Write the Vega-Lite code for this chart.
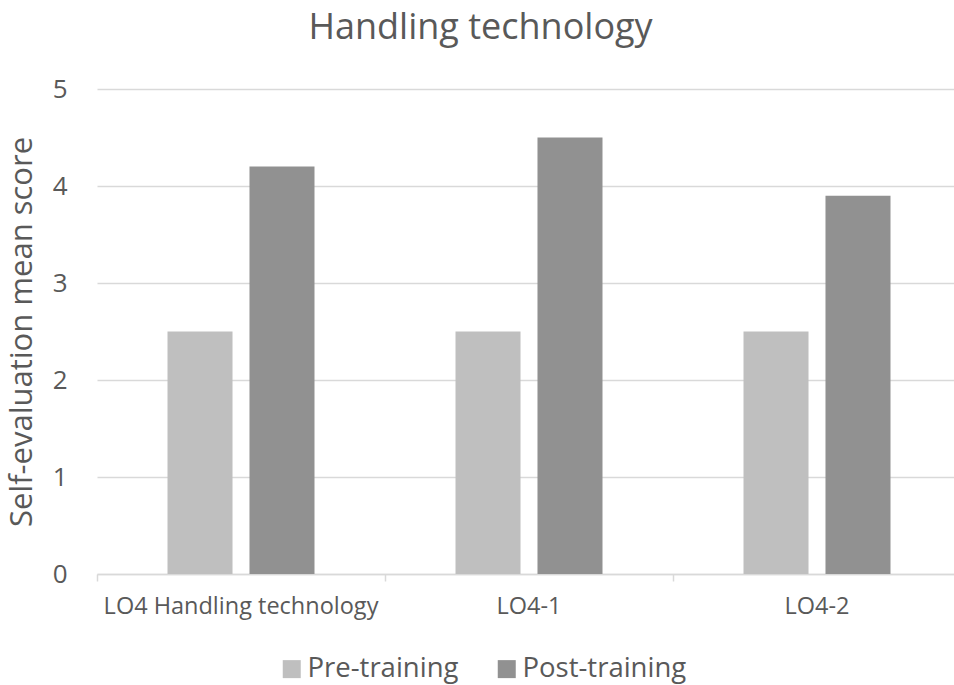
{
  "$schema": "https://vega.github.io/schema/vega-lite/v6.json",
  "width": 857,
  "height": 485,
  "autosize": {"type": "none"},
  "padding": {"left": 97, "top": 89, "right": 0, "bottom": 111},
  "background": "white",
  "title": {
    "text": "Handling technology",
    "font": "Open Sans",
    "fontSize": 36,
    "fontWeight": "normal",
    "color": "#595959",
    "anchor": "middle",
    "dx": -45,
    "offset": 29
  },
  "data": {
    "values": [
      {"category": "LO4 Handling technology", "series": "Pre-training", "score": 2.5},
      {"category": "LO4 Handling technology", "series": "Post-training", "score": 4.2},
      {"category": "LO4-1", "series": "Pre-training", "score": 2.5},
      {"category": "LO4-1", "series": "Post-training", "score": 4.5},
      {"category": "LO4-2", "series": "Pre-training", "score": 2.5},
      {"category": "LO4-2", "series": "Post-training", "score": 3.9}
    ]
  },
  "mark": {"type": "bar"},
  "encoding": {
    "x": {
      "field": "category",
      "type": "nominal",
      "sort": ["LO4 Handling technology", "LO4-1", "LO4-2"],
      "scale": {"paddingInner": 0, "paddingOuter": 0, "range": [0, 864]},
      "axis": {
        "title": null,
        "labelAngle": 0,
        "labelFont": "Open Sans",
        "labelFontSize": 23.5,
        "labelColor": "#595959",
        "labelPadding": 13,
        "labelLimit": 0,
        "domainColor": "#d9d9d9",
        "domainWidth": 1.5,
        "tickColor": "#d9d9d9",
        "tickWidth": 1.5,
        "tickSize": 7,
        "bandPosition": 0,
        "grid": false
      }
    },
    "xOffset": {
      "field": "series",
      "type": "nominal",
      "sort": ["Pre-training", "Post-training"],
      "scale": {"paddingInner": 0.207, "paddingOuter": 0.86}
    },
    "y": {
      "field": "score",
      "type": "quantitative",
      "scale": {"domain": [0, 5]},
      "axis": {
        "title": "Self-evaluation mean score",
        "titleFont": "Open Sans",
        "titleFontSize": 31,
        "titleFontWeight": "normal",
        "titleColor": "#595959",
        "titlePadding": 14,
        "labelFont": "Open Sans",
        "labelFontSize": 26,
        "labelColor": "#595959",
        "labelPadding": 30,
        "labelOverlap": false,
        "values": [0, 1, 2, 3, 4, 5],
        "domain": false,
        "ticks": false,
        "gridColor": "#d9d9d9",
        "gridWidth": 1.5
      }
    },
    "color": {
      "field": "series",
      "type": "nominal",
      "sort": ["Pre-training", "Post-training"],
      "scale": {"domain": ["Pre-training", "Post-training"], "range": ["#bfbfbf", "#919191"]},
      "legend": {
        "title": null,
        "orient": "none",
        "direction": "horizontal",
        "legendX": 181,
        "legendY": 566,
        "symbolType": "square",
        "symbolSize": 324,
        "symbolStrokeWidth": 0,
        "labelFont": "Open Sans",
        "labelFontSize": 27.5,
        "labelColor": "#595959",
        "labelLimit": 400,
        "labelOffset": 2,
        "columnPadding": 34
      }
    }
  },
  "config": {"view": {"stroke": null}}
}
